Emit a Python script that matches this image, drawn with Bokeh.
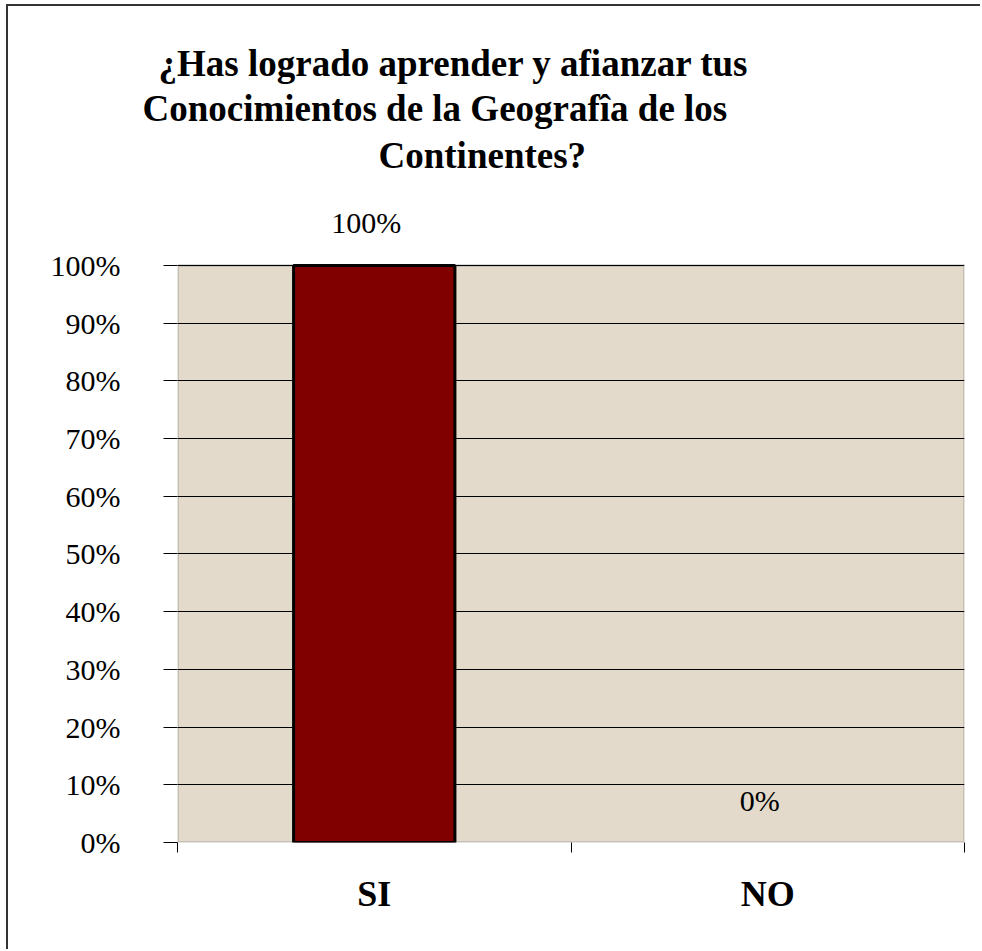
from bokeh.plotting import figure
from bokeh.models import (Range1d, FixedTicker, ColumnDataSource, LabelSet, Title,
                          BoxAnnotation, CDSView, BooleanFilter)
from bokeh.embed import file_html
from bokeh.resources import INLINE

# ---- data ----
title_lines = ["¿Has logrado aprender y afianzar tus",
               "Conocimientos de la Geografîa de los",
               "Continentes?"]
categories = ["SI", "NO"]
values = [1.0, 0.0]
value_labels = ["100%", "0%"]
y_ticks = [0.0, 0.1, 0.2, 0.3, 0.4, 0.5, 0.6, 0.7, 0.8, 0.9, 1.0]
y_tick_labels = ["0%", "10%", "20%", "30%", "40%", "50%", "60%", "70%", "80%", "90%", "100%"]

SERIF = "Liberation Serif"
W, H = 974, 945
Y_MAX = 1.1490          # head-room above 100% for the value label

n = len(categories)
centers = [i + 0.5 for i in range(n)]      # category slot centres
edges = list(range(n + 1))                  # category slot boundaries

p = figure(width=W, height=H, title=None,
           x_range=Range1d(0, n), y_range=Range1d(0, Y_MAX),
           output_backend="svg", toolbar_location=None,
           min_border_left=169, min_border_right=18,
           min_border_top=173, min_border_bottom=109)

p.styles = {"margin-left": "6px", "margin-top": "4px",
            "border-top": "2px solid #333333", "border-left": "2px solid #333333"}
p.background_fill_color = "white"
p.border_fill_color = "white"
p.outline_line_color = None

# plot area (0..n, 0..100%)
p.add_layout(BoxAnnotation(left=0, right=n, bottom=0, top=1, level="image",
                           fill_color="#e3dacb", fill_alpha=1.0,
                           line_color="#808080", line_width=3))

# y axis
p.yaxis.ticker = FixedTicker(ticks=y_ticks, minor_ticks=[])
p.yaxis.major_label_overrides = dict(zip(y_ticks, y_tick_labels))
p.yaxis.major_label_text_font = SERIF
p.yaxis.major_label_text_font_size = "30px"
p.yaxis.major_label_text_color = "black"
p.yaxis.major_tick_out = 14
p.yaxis.major_tick_in = 0
p.yaxis.major_tick_line_color = "black"
p.yaxis.minor_tick_line_color = None
p.yaxis.axis_line_color = None
p.yaxis.major_label_standoff = 43

# x axis: labels at slot centres, small ticks at slot boundaries
p.xaxis.ticker = FixedTicker(ticks=centers, minor_ticks=edges)
p.xaxis.major_label_overrides = dict(zip(centers, categories))
p.xaxis.major_label_text_font = SERIF
p.xaxis.major_label_text_font_size = "36px"
p.xaxis.major_label_text_font_style = "bold"
p.xaxis.major_label_text_color = "black"
p.xaxis.major_tick_line_color = None
p.xaxis.major_tick_out = 0
p.xaxis.major_tick_in = 0
p.xaxis.minor_tick_line_color = "black"
p.xaxis.minor_tick_out = 10
p.xaxis.minor_tick_in = 0
p.xaxis.axis_line_color = None
p.xaxis.major_label_standoff = 21

# grid
p.ygrid.ticker = FixedTicker(ticks=y_ticks, minor_ticks=[])
p.ygrid.grid_line_color = "black"
p.ygrid.grid_line_width = 1
p.xgrid.visible = False

# bars (zero-height bars are not drawn, as in the original)
src = ColumnDataSource(dict(x=centers, val=values, lbl=value_labels))
view = CDSView(filter=BooleanFilter([v > 0 for v in values]))
p.vbar(x="x", top="val", bottom=0, width=0.41, source=src, view=view,
       fill_color="#800000", line_color="black", line_width=3)

p.add_layout(LabelSet(x="x", y="val", text="lbl", source=src,
                      x_offset=-8, y_offset=32,
                      text_align="center", text_baseline="alphabetic",
                      text_font=SERIF, text_font_size="30px", text_color="black"))

# title lines: added bottom line first (each later Title sits above the previous)
title_offsets = [-19, -35, 201]
title_standoffs = [2, 2, 7]
for t, off, so in reversed(list(zip(title_lines, title_offsets, title_standoffs))):
    p.add_layout(Title(text=t, align="left", offset=off, standoff=so,
                       text_font=SERIF, text_font_size="37px", text_font_style="bold",
                       text_color="black"), "above")

open("out.html", "w").write(file_html(p, INLINE))
